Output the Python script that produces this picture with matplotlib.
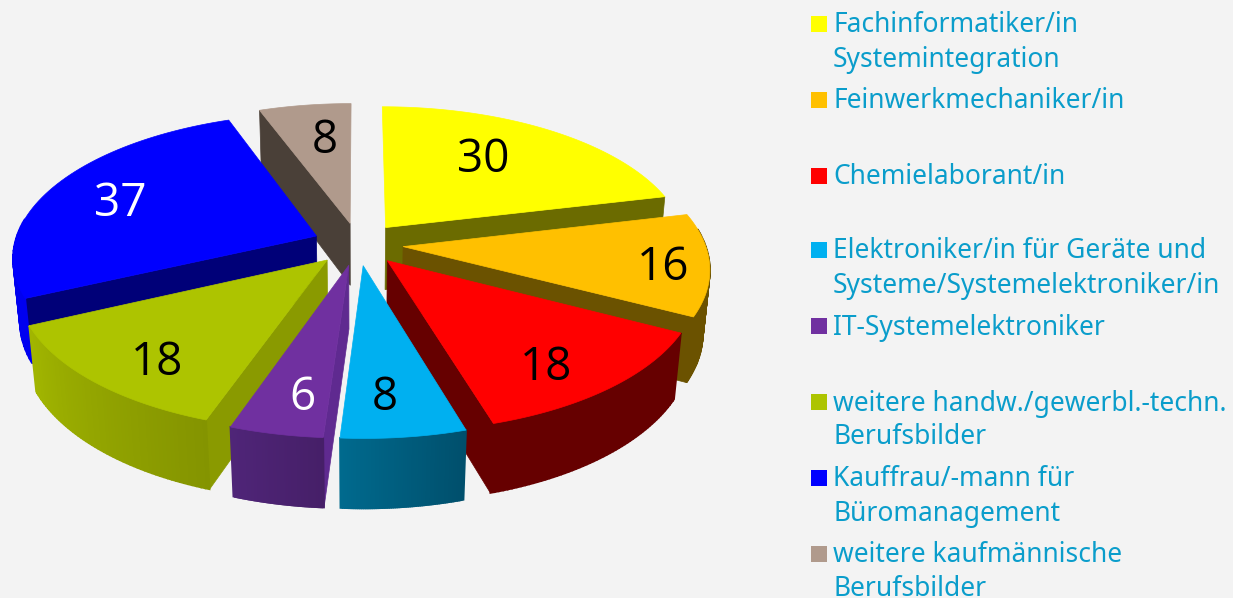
import numpy as np
import matplotlib
matplotlib.use("Agg")
import matplotlib.pyplot as plt
from matplotlib.patches import Polygon, Rectangle

# --- DATA ---
categories = [
    "Fachinformatiker/in\nSystemintegration",
    "Feinwerkmechaniker/in",
    "Chemielaborant/in",
    "Elektroniker/in für Geräte und\nSysteme/Systemelektroniker/in",
    "IT-Systemelektroniker",
    "weitere handw./gewerbl.-techn.\nBerufsbilder",
    "Kauffrau/-mann für\nBüromanagement",
    "weitere kaufmännische\nBerufsbilder",
]
values = [30, 16, 18, 8, 6, 18, 37, 8]

# --- STYLE ---
top_colors = ["#ffff00", "#ffc000", "#ff0000", "#00b0f0", "#7030a0", "#adc400", "#0000ff", "#b09a8c"]
side_colors = ["#6b6b00", "#6b5200", "#660000", "#005f80", "#5f2a90", "#8a9a00", "#000078", "#4a4038"]
arc_left = ["#6b6b00", "#6b5200", "#660000", "#006a8e", "#4f2578", "#a2b600", "#0000f0", "#4a4038"]
arc_right = ["#6b6b00", "#6b5200", "#660000", "#004f6c", "#461f68", "#849400", "#0000f0", "#4a4038"]
label_colors = ["black", "black", "black", "black", "white", "black", "white", "black"]
label_pos = [(483, 160), (663, 268), (546, 368), (385, 398), (302, 398), (157, 363), (120, 204), (325, 141)]
legend_y = [24, 100, 176, 250, 326, 402, 478, 554]
line_gap = 34
text_color = "#0a9dcb"
bg = "#f3f3f3"

# projection of the pie
cx, cy = 358, 244
A, B, D = 302, 142, 64
p, q = 0.14, 0.02
explode = 0.15


def project(x, y, z=0.0):
    w = 1 + p * y + q * z
    return cx + A * x / w, cy - B * y / w + D * z / w


def mix(c1, c2, f):
    a = np.array(matplotlib.colors.to_rgb(c1))
    b = np.array(matplotlib.colors.to_rgb(c2))
    return a + (b - a) * f


fig = plt.figure(figsize=(12.33, 5.98), dpi=100, facecolor=bg)
ax = fig.add_axes([0, 0, 1, 1])
ax.set_xlim(0, 1233)
ax.set_ylim(598, 0)
ax.axis("off")

fracs = np.array(values) / sum(values)
ends = np.cumsum(fracs) * 2 * np.pi
starts = ends - fracs * 2 * np.pi


def draw_wedge(i):
    t0, t1 = starts[i], ends[i]
    mid = (t0 + t1) / 2
    ox, oy = explode * np.sin(mid), explode * np.cos(mid)
    t = np.linspace(t0, t1, 60)
    xs, ys = ox + np.sin(t), oy + np.cos(t)

    def face(pts, color, lw=0.5):
        ax.add_patch(Polygon(pts, closed=True, facecolor=color, edgecolor=color, lw=lw))

    # radial walls, only those turned to the viewer
    for tt, ny in [(t0, np.sin(t0)), (t1, -np.sin(t1))]:
        if ny > -0.01:
            continue
        ex, ey = ox + np.sin(tt), oy + np.cos(tt)
        face([project(ox, oy), project(ex, ey), project(ex, ey, 1), project(ox, oy, 1)], side_colors[i])

    # outer wall
    for k in range(len(t) - 1):
        if np.cos((t[k] + t[k + 1]) / 2) > 0.12:
            continue
        f = np.clip((t[k] - t0) / (t1 - t0), 0, 1)
        color = mix(arc_right[i], arc_left[i], f)
        face([project(xs[k], ys[k]), project(xs[k + 1], ys[k + 1]),
              project(xs[k + 1], ys[k + 1], 1), project(xs[k], ys[k], 1)], color, lw=1.2)

    # top
    pts = [project(ox, oy)] + [project(a, b) for a, b in zip(xs, ys)]
    face(pts, top_colors[i])


# back to front
for i in [7, 0, 6, 1, 5, 2, 4, 3]:
    draw_wedge(i)

for v, (lx, ly), c in zip(values, label_pos, label_colors):
    ax.text(lx, ly, str(v), ha="center", va="center", fontsize=33, color=c, family="Open Sans")

# --- LEGEND ---
for name, c, y in zip(categories, top_colors, legend_y):
    ax.add_patch(Rectangle((811, y - 8), 16, 16, facecolor=c, edgecolor="none"))
    for j, line in enumerate(name.split("\n")):
        ax.text(833, y + 1.5 + j * line_gap, line, ha="left", va="center", fontsize=19,
                color=text_color, family="Noto Sans")

plt.savefig("out.png", dpi=100, facecolor=bg)
